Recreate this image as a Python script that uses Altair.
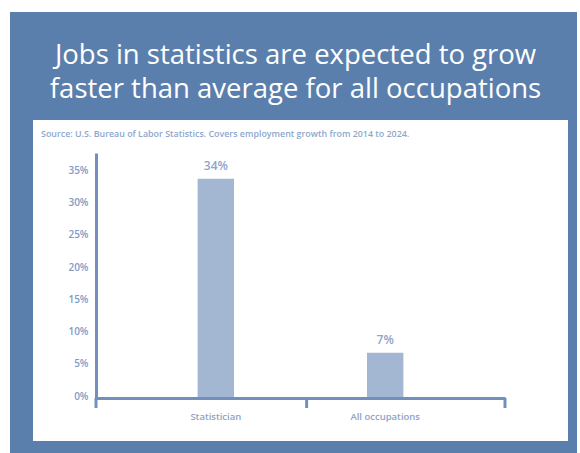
import altair as alt
import pandas as pd

# ---- data ----
categories = ["Statistician", "All occupations"]
growth = [34, 7]
bar_labels = ["34%", "7%"]
y_tick_values = [0, 5, 10, 15, 20, 25, 30, 35]
title_lines = ["Jobs in statistics are expected to grow",
               "faster than average for all occupations"]
source_note = "Source: U.S. Bureau of Labor Statistics. Covers employment growth from 2014 to 2024."
tick_edges = [0, 0.515, 1]

# ---- style ----
W, H = 409, 245
BLUE = "#5b7fad"
BAR = "#a3b7d3"
AXIS = "#7090c0"
LABEL = "#7f9bc6"
FONT = "Open Sans"

df = pd.DataFrame({"cat": categories, "growth": growth, "label": bar_labels})
one = pd.DataFrame({"k": [0]})
ticks_df = pd.DataFrame({"edge": tick_edges})

bg = alt.Chart(one).mark_rect(color=BLUE).encode(
    x=alt.value(-86), x2=alt.value(481), y=alt.value(-141), y2=alt.value(300))
card = alt.Chart(one).mark_rect(color="white").encode(
    x=alt.value(-63), x2=alt.value(472), y=alt.value(-33), y2=alt.value(288))

t1 = alt.Chart(one).mark_text(font=FONT, fontSize=27.5, color="white", align="center",
                              baseline="alphabetic").encode(
    x=alt.value(199.5), y=alt.value(-89), text=alt.value(title_lines[0]))
t2 = alt.Chart(one).mark_text(font=FONT, fontSize=27.5, color="white", align="center",
                              baseline="alphabetic").encode(
    x=alt.value(199.5), y=alt.value(-55), text=alt.value(title_lines[1]))
src = alt.Chart(one).mark_text(font=FONT, fontSize=8.9, fontWeight=600, color="#8ea7cb",
                               align="left", baseline="middle").encode(
    x=alt.value(-55), y=alt.value(-19), text=alt.value(source_note))

xs = alt.X("cat:N", sort=categories, title=None,
           scale=alt.Scale(paddingInner=0.785, paddingOuter=0.6),
           axis=alt.Axis(ticks=False, tickSize=0, domain=True, domainColor=AXIS,
                         domainWidth=3, labelAngle=0, labelFont=FONT, labelFontSize=9.5,
                         labelColor="#8ea4c6", labelPadding=13, labelFontWeight=600,
                         zindex=1))
ys = alt.Y("growth:Q", title=None,
           scale=alt.Scale(domain=[0, 38], nice=False),
           axis=alt.Axis(values=y_tick_values, labelExpr="datum.value + '%'",
                         labelOverlap=False, labelBound=False, labelFlush=False,
                         tickCount=8,
                         ticks=False, grid=False, domain=True, domainColor=AXIS,
                         domainWidth=3, labelFont=FONT, labelFontSize=10,
                         labelFontWeight=600, labelColor=LABEL, labelPadding=8,
                         labelOffset=-2, zindex=1))

bars = alt.Chart(df).mark_bar(color=BAR).encode(x=xs, y=ys)
vals = alt.Chart(df).mark_text(font=FONT, fontSize=12, fontWeight=600, color="#8ca6cb",
                               baseline="middle", dy=-13).encode(
    x=xs, y=ys, text="label:N")
main = alt.layer(bars, vals)

ticks = alt.Chart(ticks_df).mark_rule(color=AXIS, strokeWidth=3).encode(
    x=alt.X("edge:Q", scale=alt.Scale(domain=[0, 1], nice=False, zero=False), axis=None),
    y=alt.value(H), y2=alt.value(H + 10))

chart = alt.layer(bg, card, t1, t2, src, main, ticks).resolve_scale(
    x="independent", y="independent"
).properties(
    width=W, height=H,
    autosize=alt.AutoSizeParams(type="none"),
    padding={"left": 96, "top": 153, "right": 75, "bottom": 55},
    background="white",
).configure_view(stroke=None)

chart.save("out.html", embed_options={"renderer": "svg", "actions": False})
